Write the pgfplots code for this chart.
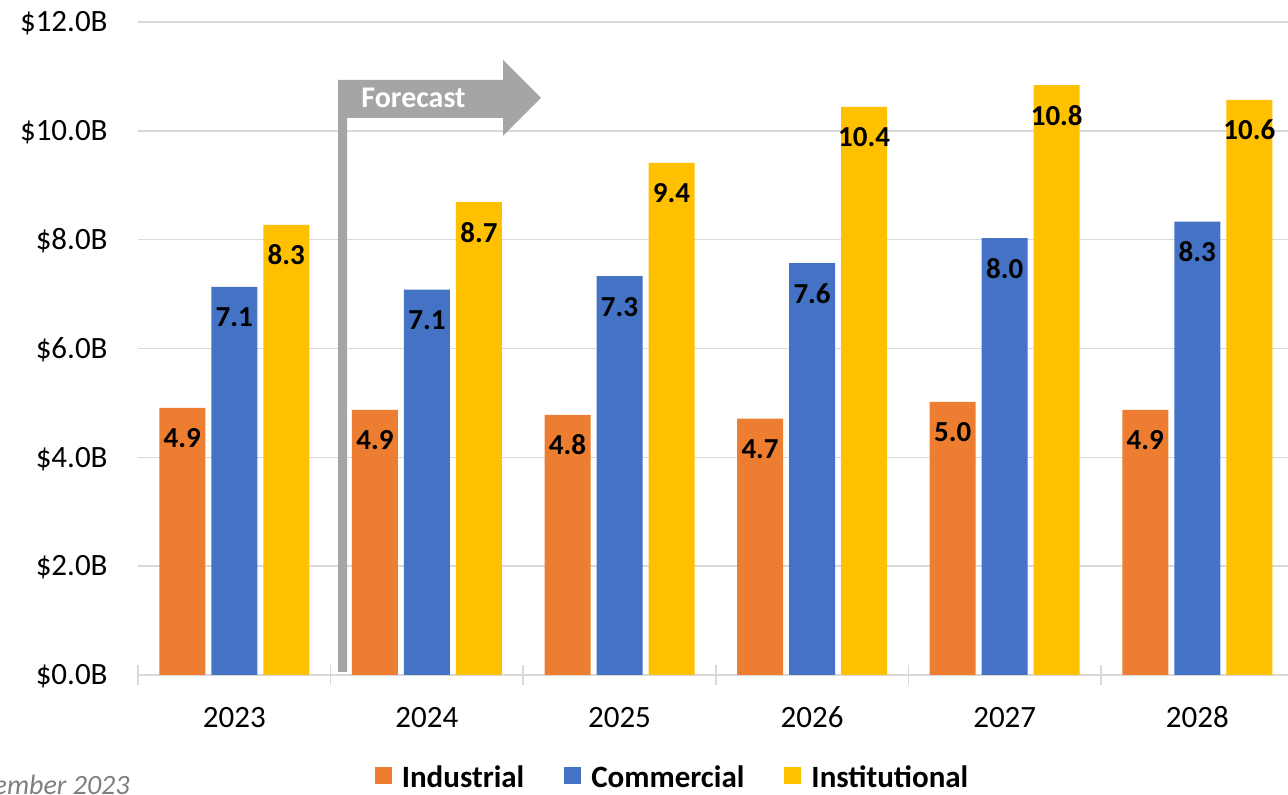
\documentclass[border=0pt]{standalone}
\usepackage{fontspec}
\setmainfont{Carlito}
\usepackage{pgfplots}
\pgfplotsset{compat=1.18}
\definecolor{cInd}{HTML}{ED7D31}
\definecolor{cCom}{HTML}{4472C4}
\definecolor{cIns}{HTML}{FFC000}
\definecolor{cArrow}{HTML}{A5A5A5}
\definecolor{cGrid}{HTML}{D9D9D9}
\definecolor{cNote}{HTML}{7F7F7F}
\begin{document}
\begin{tikzpicture}[x=0.5pt,y=0.5pt]
\useasboundingbox (0,0) rectangle (1288,795);
\begin{scope}
\clip (0,0) rectangle (1288,795);
\begin{axis}[
  at={(69pt,60pt)}, anchor=south west,
  width=577.8pt, height=326.5pt, scale only axis,
  xmin=-0.5, xmax=5.5, ymin=0, ymax=12,
  ybar=3pt, bar width=23pt,
  /pgf/number format/assume math mode=true,
  axis x line*=bottom, axis y line*=left,
  x axis line style={draw=cGrid, line width=0.75pt, -},
  y axis line style={draw=none},
  xtick={0,1,2,3,4,5},
  xticklabels={2023,2024,2025,2026,2027,2028},
  minor xtick={-0.5,0.5,1.5,2.5,3.5,4.5,5.5},
  major tick length=0pt, minor tick length=10pt, tick align=center,
  minor x tick style={draw=cGrid, line width=0.75pt},
  major x tick style={draw=none},
  xtick pos=bottom,
  ytick={0,2,4,6,8,10,12},
  ytick style={draw=none},
  ymajorgrids, grid style={draw=cGrid, line width=0.75pt},
  yticklabel={\$\pgfmathprintnumber[fixed,fixed zerofill,precision=1]{\tick}B},
  yticklabel style={anchor=base east, inner sep=0pt, xshift=-15pt, yshift=-4.9pt, font=\fontsize{15.5}{15.5}\selectfont, text=black},
  xticklabel style={anchor=base, inner sep=0pt, yshift=-26.5pt, font=\fontsize{15.5}{15.5}\selectfont, text=black},
  nodes near coords={\pgfmathprintnumber[fixed,fixed zerofill,precision=1]{\pgfplotspointmeta}},
  nodes near coords style={font=\bfseries\fontsize{14.5}{14.5}\selectfont, anchor=base, yshift=-20pt, text=black, inner sep=0pt},
  legend columns=3,
  legend image code/.code={\fill[#1] (0pt,-3pt) rectangle (8.5pt,5.5pt);},
  legend style={draw=none, fill=none, at={(0.4617,-0.1577)}, anchor=center,
    font=\bfseries\fontsize{15.5}{15.5}\selectfont, inner sep=0pt,
    /tikz/every odd column/.append style={column sep=5pt},
    /tikz/every even column/.append style={column sep=20pt},
    nodes={inner sep=0pt}},
]
\addplot[fill=cInd, draw=none] coordinates {(0,4.91) (1,4.87) (2,4.78) (3,4.71) (4,5.02) (5,4.87)};
\addplot[fill=cCom, draw=none] coordinates {(0,7.13) (1,7.08) (2,7.33) (3,7.57) (4,8.03) (5,8.33)};
\addplot[fill=cIns, draw=none] coordinates {(0,8.27) (1,8.69) (2,9.41) (3,10.44) (4,10.84) (5,10.57)};
\legend{Industrial,Commercial,Institutional}
\end{axis}
\fill[cArrow] (338,123) -- (338,715) -- (503,715) -- (503,735) -- (541,697) -- (503,659) -- (503,677) -- (347,677) -- (347,123) -- cycle;
\node[anchor=base, text=white, inner sep=0pt, font=\bfseries\fontsize{15}{15}\selectfont] at (413.5,687) {Forecast};
\node[anchor=base east, text=cNote, inner sep=0pt, font=\itshape\fontsize{14}{14}\selectfont] at (130,0.5) {November 2023};
\end{scope}
\end{tikzpicture}
\end{document}
